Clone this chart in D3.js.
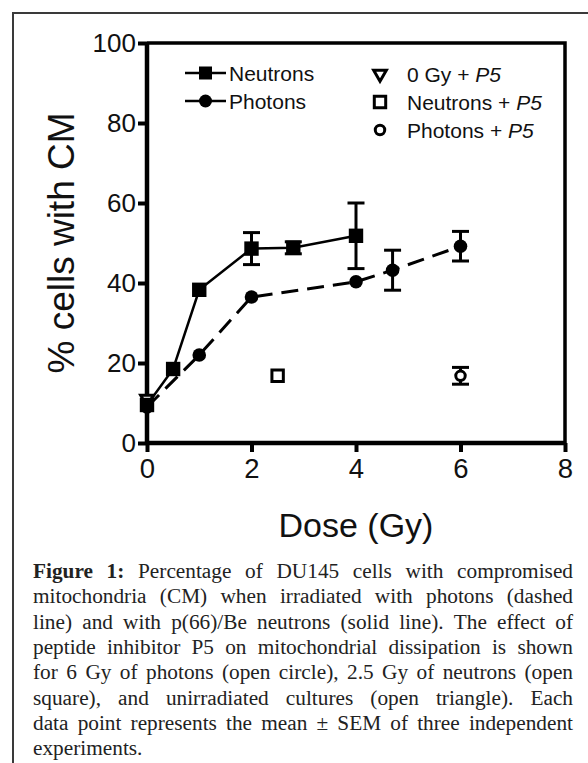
<!DOCTYPE html>
<html>
<head>
<meta charset="utf-8">
<script src="https://cdn.jsdelivr.net/npm/d3@7"></script>
<style>
  body { margin: 0; background: #fff; }
  svg { display: block; }
</style>
</head>
<body>
<div id="chart"></div>
<script>
// values
const neutronDose = [0, 0.5, 1, 2, 2.8, 4];
const neutronPct  = [9.5, 18.5, 38.3, 48.6, 48.8, 51.8];
const neutronSem  = [0, 0, 0, 4, 1.5, 8.2];

const photonDose = [0, 1, 2, 4, 4.7, 6];
const photonPct  = [9, 22, 36.5, 40.3, 43.2, 49.2];
const photonSem  = [0, 0, 0, 0, 5, 3.7];

const p5Names = ['0 Gy + ', 'Neutrons + ', 'Photons + '];
const p5Dose  = [0, 2.5, 6];
const p5Pct   = [11, 16.8, 16.8];
const p5Sem   = [0, 0, 2.1];

const xTicks = [0, 2, 4, 6, 8];
const yTicks = [0, 20, 40, 60, 80, 100];

const captionLines = [
  '\u0001Figure \u00011: Percentage of DU145 cells with compromised',
  'mitochondria (CM) when irradiated with photons (dashed',
  'line) and with p(66)/Be neutrons (solid line). The effect of',
  'peptide inhibitor P5 on mitochondrial dissipation is shown',
  'for 6 Gy of photons (open circle), 2.5 Gy of neutrons (open',
  'square), and unirradiated cultures (open triangle). Each',
  'data point represents the mean \u00b1 SEM of three independent',
  'experiments.'
];

const W = 588, H = 763;
const svg = d3.select('#chart').append('svg')
  .attr('width', W).attr('height', H);

// outer frame (only left and top visible)
svg.append('path')
  .attr('d', `M13,${H} L13,13 L${W},13`)
  .attr('fill', 'none').attr('stroke', '#3a3a3a').attr('stroke-width', 2);

const x = d3.scaleLinear().domain([0, 8]).range([147, 565]);
const y = d3.scaleLinear().domain([0, 100]).range([443, 43]);

// plot box top / right
svg.append('path')
  .attr('d', `M${x(0)},${y(100)} L${x(8)},${y(100)} L${x(8)},${y(0)}`)
  .attr('fill', 'none').attr('stroke', '#000').attr('stroke-width', 3.5);

const xAxis = svg.append('g')
  .attr('transform', `translate(0,${y(0)})`)
  .call(d3.axisBottom(x).tickValues(xTicks).tickSize(9).tickPadding(6).tickFormat(d3.format('d')));
const yAxis = svg.append('g')
  .attr('transform', `translate(${x(0)},0)`)
  .call(d3.axisLeft(y).tickValues(yTicks).tickSize(9).tickPadding(2).tickFormat(d3.format('d')));

[xAxis, yAxis].forEach(g => {
  g.select('.domain').attr('stroke-width', 4.5);
  g.selectAll('.tick line').attr('stroke-width', 4);
  g.selectAll('.tick text')
    .attr('font-family', 'Liberation Sans, Arial, sans-serif')
    .attr('font-size', 26).attr('fill', '#111');
});
xAxis.selectAll('.tick text').attr('font-size', 27.5);
xAxis.select('.domain').attr('d', `M${x(0)},0H${x(8)}`);
yAxis.select('.domain').attr('d', `M0,${y(0)}V${y(100)}`);

svg.append('text')
  .attr('x', (x(0) + x(8)) / 2).attr('y', 537)
  .attr('text-anchor', 'middle')
  .attr('font-family', 'Liberation Sans, Arial, sans-serif')
  .attr('font-size', 34).attr('fill', '#111')
  .text('Dose (Gy)');

svg.append('text')
  .attr('transform', `translate(74,${(y(0) + y(100)) / 2}) rotate(-90)`)
  .attr('text-anchor', 'middle')
  .attr('font-family', 'Liberation Sans, Arial, sans-serif')
  .attr('font-size', 37).attr('fill', '#111')
  .text('% cells with CM');

// series
const neutrons = neutronDose.map((d, i) => ({dose: d, pct: neutronPct[i], sem: neutronSem[i]}));
const photons = photonDose.map((d, i) => ({dose: d, pct: photonPct[i], sem: photonSem[i]}));
const p5 = p5Dose.map((d, i) => ({dose: d, pct: p5Pct[i], sem: p5Sem[i], kind: i}));

const line = d3.line().x(d => x(d.dose)).y(d => y(d.pct));
const openShapes = [d3.symbolTriangle, d3.symbolSquare, d3.symbolCircle];
const openSizes = [70, 130, 70];

function errorBars(data) {
  const g = svg.append('g').attr('stroke', '#000').attr('stroke-width', 3);
  const withErr = data.filter(d => d.sem > 0);
  g.selectAll('.v').data(withErr).enter().append('line')
    .attr('x1', d => x(d.dose)).attr('x2', d => x(d.dose))
    .attr('y1', d => y(d.pct - d.sem)).attr('y2', d => y(d.pct + d.sem));
  [1, -1].forEach(s => {
    g.selectAll('.c' + s).data(withErr).enter().append('line')
      .attr('x1', d => x(d.dose) - 8.5).attr('x2', d => x(d.dose) + 8.5)
      .attr('y1', d => y(d.pct + s * d.sem)).attr('y2', d => y(d.pct + s * d.sem));
  });
}

svg.append('path').datum(photons)
  .attr('d', line).attr('fill', 'none')
  .attr('stroke', '#000').attr('stroke-width', 3)
  .attr('stroke-dasharray', '17,9');
svg.append('path').datum(neutrons)
  .attr('d', line).attr('fill', 'none')
  .attr('stroke', '#000').attr('stroke-width', 2.5);

errorBars(p5);
errorBars(photons);
errorBars(neutrons);

// open P5 markers
svg.selectAll('.p5').data(p5).enter().append('path')
  .attr('transform', d => `translate(${x(d.dose)},${y(d.pct)})` + (d.kind === 0 ? ' rotate(180)' : ''))
  .attr('d', d => d3.symbol().type(openShapes[d.kind]).size(openSizes[d.kind])())
  .attr('fill', '#fff').attr('stroke', '#000').attr('stroke-width', 3);

svg.selectAll('.ph').data(photons).enter().append('circle')
  .attr('cx', d => x(d.dose)).attr('cy', d => y(d.pct)).attr('r', 6.8)
  .attr('fill', '#000');
svg.selectAll('.ne').data(neutrons).enter().append('rect')
  .attr('x', d => x(d.dose) - 7.2).attr('y', d => y(d.pct) - 7.2)
  .attr('width', 14.4).attr('height', 14.4)
  .attr('fill', '#000');

// legend
const leg = svg.append('g')
  .attr('font-family', 'Liberation Sans, Arial, sans-serif')
  .attr('font-size', 21).attr('fill', '#111');
[['Neutrons', 73], ['Photons', 101]].forEach(([name, ly], i) => {
  leg.append('line').attr('x1', 185).attr('x2', 226).attr('y1', ly).attr('y2', ly)
    .attr('stroke', '#000').attr('stroke-width', 2.5);
  if (i === 0) {
    leg.append('rect').attr('x', 199).attr('y', ly - 6.5).attr('width', 13).attr('height', 13).attr('fill', '#000');
  } else {
    leg.append('circle').attr('cx', 205.5).attr('cy', ly).attr('r', 6.5).attr('fill', '#000');
  }
  leg.append('text').attr('x', 229).attr('y', ly + 7.5).text(name);
});
p5Names.forEach((name, i) => {
  const ly = 74 + i * 28;
  leg.append('path')
    .attr('transform', `translate(380,${ly})` + (i === 0 ? ' rotate(180)' : ''))
    .attr('d', d3.symbol().type(openShapes[i]).size(openSizes[i])())
    .attr('fill', '#fff').attr('stroke', '#000').attr('stroke-width', 3);
  const t = leg.append('text').attr('x', 407).attr('y', ly + 7.5);
  t.append('tspan').text(name);
  t.append('tspan').attr('font-style', 'italic').text('P5');
});

// caption, justified
const capX0 = 33, capX1 = 573, capY0 = 578, capDy = 25.3;
const cap = svg.append('g')
  .attr('font-family', 'Liberation Serif, Times New Roman, serif')
  .attr('font-size', 21.3).attr('fill', '#222');
captionLines.forEach((ln, li) => {
  const words = ln.split(' ').map(w => ({bold: w.startsWith('\u0001'), text: w.replace('\u0001', '')}));
  const ty = capY0 + li * capDy;
  const nodes = words.map(w => cap.append('text').attr('y', ty)
    .attr('font-weight', w.bold ? 'bold' : null).text(w.text));
  const widths = nodes.map(n => n.node().getComputedTextLength());
  const total = d3.sum(widths);
  const last = li === captionLines.length - 1;
  const gap = last ? 5 : (capX1 - capX0 - total) / (words.length - 1);
  let cx = capX0;
  nodes.forEach((n, i) => { n.attr('x', cx); cx += widths[i] + gap; });
});
</script>
</body>
</html>
